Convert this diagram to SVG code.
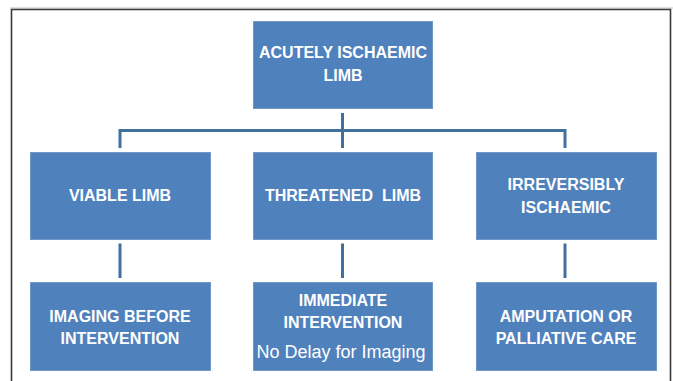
<svg xmlns="http://www.w3.org/2000/svg" width="673" height="381" viewBox="0 0 673 381">
<style>
.box{fill:#4F81BD;stroke:#6F97C9;stroke-width:1}
.t{font-family:"Liberation Sans",Arial,sans-serif;font-weight:bold;font-size:16px;fill:#FFFFFF;text-anchor:middle}
.s{font-family:"Liberation Sans",Arial,sans-serif;font-weight:normal;font-size:18px;fill:#FFFFFF;text-anchor:middle}
.c{fill:none;stroke:#41709F;stroke-width:3}
</style>
<rect width="673" height="381" fill="#FFFFFF"/>
<line x1="10" y1="8" x2="673" y2="8" stroke="#C0C0C0" stroke-width="1"/>
<path d="M11.5,385 V9.5 H670.5 V385" fill="none" stroke="#3A3A3A" stroke-width="1.6"/>
<g id="connectors">
<path class="c" d="M120,148 V130.5 H565 V148"/>
<line class="c" x1="342.5" y1="113" x2="342.5" y2="148"/>
<line class="c" x1="120" y1="243.5" x2="120" y2="278"/>
<line class="c" x1="342.5" y1="243.5" x2="342.5" y2="278"/>
<line class="c" x1="565" y1="243.5" x2="565" y2="278"/>
</g>
<g id="acutely-ischaemic-limb">
<rect class="box" x="253.5" y="21.5" width="179" height="87"/>
<text class="t" x="343" y="58">ACUTELY ISCHAEMIC</text>
<text class="t" x="343" y="81">LIMB</text>
</g>
<g id="viable-limb">
<rect class="box" x="30.5" y="152.5" width="180" height="87"/>
<text class="t" x="120" y="201">VIABLE LIMB</text>
</g>
<g id="threatened-limb">
<rect class="box" x="253.5" y="152.5" width="179" height="87"/>
<text class="t" x="343" y="201" xml:space="preserve">THREATENED  LIMB</text>
</g>
<g id="irreversibly-ischaemic">
<rect class="box" x="476.5" y="152.5" width="180" height="87"/>
<text class="t" x="566" y="190">IRREVERSIBLY</text>
<text class="t" x="566" y="212.5">ISCHAEMIC</text>
</g>
<g id="imaging-before-intervention">
<rect class="box" x="30.5" y="282.5" width="180" height="88"/>
<text class="t" x="120" y="321.5">IMAGING BEFORE</text>
<text class="t" x="120" y="344">INTERVENTION</text>
</g>
<g id="immediate-intervention">
<rect class="box" x="253.5" y="282.5" width="179" height="88"/>
<text class="t" x="343" y="305.5">IMMEDIATE</text>
<text class="t" x="343" y="328">INTERVENTION</text>
<text class="s" x="341" y="358">No Delay for Imaging</text>
</g>
<g id="amputation-or-palliative-care">
<rect class="box" x="476.5" y="282.5" width="180" height="88"/>
<text class="t" x="566" y="321.5">AMPUTATION OR</text>
<text class="t" x="566" y="344">PALLIATIVE CARE</text>
</g>
</svg>
